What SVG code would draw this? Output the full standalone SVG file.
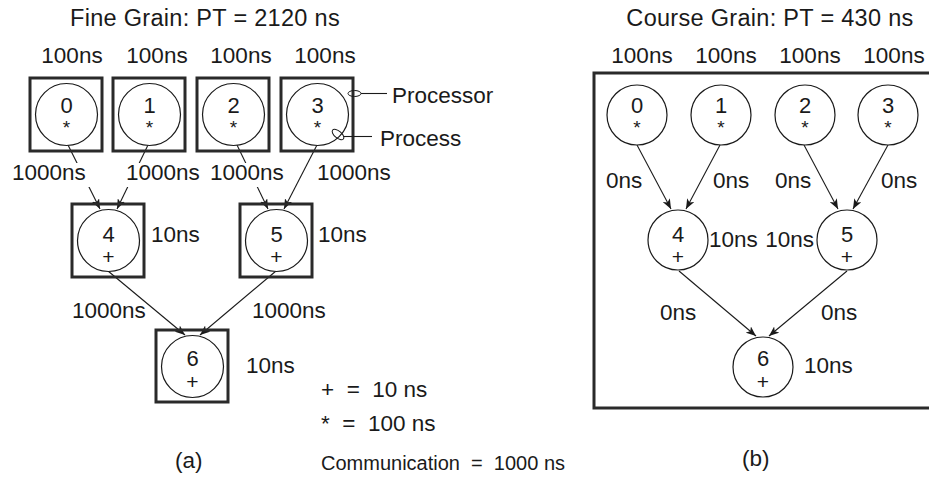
<svg xmlns="http://www.w3.org/2000/svg" width="929" height="477" viewBox="0 0 929 477">
<style>
text{font-family:"Liberation Sans",Arial,sans-serif;fill:#1a1a1a}
.lbl{font-size:22.5px}
.ttl{font-size:23.5px;letter-spacing:0.3px;text-anchor:middle}
.dig{font-size:22px;text-anchor:middle}
.sym{font-size:21px;text-anchor:middle}
.ast{font-size:19px;text-anchor:middle}
.box{fill:none;stroke:#2a2a2a;stroke-width:3}
.cir{fill:#fff;stroke:#1a1a1a;stroke-width:1.2}
.edge{fill:none;stroke:#1a1a1a;stroke-width:1.1;marker-end:url(#ah)}
.thin{fill:none;stroke:#1a1a1a;stroke-width:1.1}
.bg{fill:#fff}
</style>
<defs>
<marker id="ah" markerWidth="11" markerHeight="8" refX="10" refY="4" orient="auto" markerUnits="userSpaceOnUse">
<path d="M0,0 L10,4 L0,8 L2.5,4 z" fill="#1a1a1a"/>
</marker>
</defs>
<rect width="929" height="477" fill="#fff"/>

<!-- titles -->
<text class="ttl" x="205" y="26">Fine Grain: PT = 2120 ns</text>
<text class="ttl" x="770" y="26">Course Grain: PT = 430 ns</text>

<!-- top time labels -->
<g id="top-labels">
<text class="lbl" x="72" y="63" text-anchor="middle">100ns</text>
<text class="lbl" x="157" y="63" text-anchor="middle">100ns</text>
<text class="lbl" x="241" y="63" text-anchor="middle">100ns</text>
<text class="lbl" x="325" y="63" text-anchor="middle">100ns</text>
<text class="lbl" x="642" y="63" text-anchor="middle">100ns</text>
<text class="lbl" x="726" y="63" text-anchor="middle">100ns</text>
<text class="lbl" x="810" y="63" text-anchor="middle">100ns</text>
<text class="lbl" x="894" y="63" text-anchor="middle">100ns</text>
</g>

<!-- right big processor box -->
<rect class="box" x="594" y="73" width="345" height="335"/>

<!-- connectors -->
<g id="connectors">
<line class="edge" x1="68" y1="145" x2="100" y2="209"/>
<line class="edge" x1="148" y1="145" x2="117" y2="209"/>
<line class="edge" x1="237" y1="145" x2="268" y2="209"/>
<line class="edge" x1="317" y1="145" x2="284" y2="209"/>
<line class="edge" x1="108" y1="271" x2="185" y2="335"/>
<line class="edge" x1="276" y1="271" x2="200" y2="335"/>
<line class="edge" x1="637" y1="145" x2="671" y2="209"/>
<line class="edge" x1="720" y1="145" x2="686" y2="209"/>
<line class="edge" x1="804" y1="145" x2="838" y2="209"/>
<line class="edge" x1="888" y1="145" x2="853" y2="209"/>
<line class="edge" x1="679" y1="271" x2="756" y2="336"/>
<line class="edge" x1="847" y1="271" x2="769" y2="336"/>
</g>

<!-- edge labels -->
<g id="edge-labels">
<rect class="bg" x="10" y="163" width="80" height="24"/>
<rect class="bg" x="124" y="163" width="80" height="24"/>
<rect class="bg" x="208" y="163" width="80" height="24"/>
<text class="lbl" x="12" y="180">1000ns</text>
<text class="lbl" x="126" y="180">1000ns</text>
<text class="lbl" x="210" y="180">1000ns</text>
<text class="lbl" x="317" y="180">1000ns</text>
<text class="lbl" x="72" y="318">1000ns</text>
<text class="lbl" x="252" y="318">1000ns</text>
<text class="lbl" x="606" y="188">0ns</text>
<text class="lbl" x="713" y="188">0ns</text>
<text class="lbl" x="775" y="188">0ns</text>
<text class="lbl" x="881" y="188">0ns</text>
<text class="lbl" x="660" y="320">0ns</text>
<text class="lbl" x="821" y="320">0ns</text>
</g>

<!-- fine grain nodes -->
<g id="fg0"><rect class="box" x="30" y="78" width="72" height="73"/><circle class="cir" cx="66.5" cy="114.5" r="31"/><text class="dig" x="66.5" y="113">0</text><text class="ast" x="66.5" y="134">*</text></g>
<g id="fg1"><rect class="box" x="113" y="78" width="72" height="73"/><circle class="cir" cx="149.5" cy="114.5" r="31"/><text class="dig" x="149.5" y="113">1</text><text class="ast" x="149.5" y="134">*</text></g>
<g id="fg2"><rect class="box" x="197" y="78" width="72" height="73"/><circle class="cir" cx="233.5" cy="114.5" r="31"/><text class="dig" x="233.5" y="113">2</text><text class="ast" x="233.5" y="134">*</text></g>
<g id="fg3"><rect class="box" x="281" y="78" width="72" height="73"/><circle class="cir" cx="317.5" cy="114.5" r="31"/><text class="dig" x="317.5" y="113">3</text><text class="ast" x="317.5" y="134">*</text></g>
<g id="fg4"><rect class="box" x="72" y="204" width="72" height="73"/><circle class="cir" cx="108.5" cy="240.5" r="31"/><text class="dig" x="108.5" y="242">4</text><text class="sym" x="108.5" y="264">+</text><text class="lbl" x="151" y="242">10ns</text></g>
<g id="fg5"><rect class="box" x="240" y="204" width="72" height="73"/><circle class="cir" cx="276.5" cy="240.5" r="31"/><text class="dig" x="276.5" y="242">5</text><text class="sym" x="276.5" y="264">+</text><text class="lbl" x="318" y="242">10ns</text></g>
<g id="fg6"><rect class="box" x="156" y="330" width="72" height="72"/><circle class="cir" cx="192.5" cy="366.5" r="31"/><text class="dig" x="192.5" y="366">6</text><text class="sym" x="192.5" y="389">+</text><text class="lbl" x="246" y="373">10ns</text></g>

<!-- annotations -->
<g id="processor-note">
<ellipse cx="354.5" cy="93.5" rx="6.5" ry="3" fill="none" stroke="#1a1a1a" stroke-width="1"/>
<line class="thin" x1="361" y1="93.5" x2="387" y2="93.5"/>
<text class="lbl" x="392" y="103">Processor</text>
</g>
<g id="process-note">
<ellipse cx="338" cy="134.5" rx="7" ry="3.5" transform="rotate(40 338 134.5)" fill="none" stroke="#1a1a1a" stroke-width="1"/>
<line class="thin" x1="344" y1="136.5" x2="372" y2="136.5"/>
<text class="lbl" x="380" y="146">Process</text>
</g>

<!-- coarse grain nodes -->
<g id="cg0"><circle class="cir" cx="637" cy="115" r="30"/><text class="dig" x="637" y="113">0</text><text class="ast" x="637" y="134">*</text></g>
<g id="cg1"><circle class="cir" cx="721" cy="115" r="30"/><text class="dig" x="721" y="113">1</text><text class="ast" x="721" y="134">*</text></g>
<g id="cg2"><circle class="cir" cx="805" cy="115" r="30"/><text class="dig" x="805" y="113">2</text><text class="ast" x="805" y="134">*</text></g>
<g id="cg3"><circle class="cir" cx="888" cy="115" r="30"/><text class="dig" x="888" y="113">3</text><text class="ast" x="888" y="134">*</text></g>
<g id="cg4"><circle class="cir" cx="678" cy="240" r="30"/><text class="dig" x="678" y="242">4</text><text class="sym" x="678" y="264">+</text><text class="lbl" x="709" y="247">10ns</text></g>
<g id="cg5"><circle class="cir" cx="847" cy="240" r="30"/><text class="dig" x="847" y="242">5</text><text class="sym" x="847" y="264">+</text><text class="lbl" x="814" y="247" text-anchor="end">10ns</text></g>
<g id="cg6"><circle class="cir" cx="763" cy="367" r="30"/><text class="dig" x="763" y="366">6</text><text class="sym" x="763" y="389">+</text><text class="lbl" x="804" y="373">10ns</text></g>

<!-- legend and captions -->
<g id="legend">
<text class="lbl" x="321" y="397" xml:space="preserve">+  =  10 ns</text>
<text class="lbl" x="321" y="431" xml:space="preserve">*  =  100 ns</text>
<text class="lbl" x="321" y="470" xml:space="preserve" style="font-size:20px">Communication  =  1000 ns</text>
<text class="lbl" x="175" y="468">(a)</text>
<text class="lbl" x="742" y="466">(b)</text>
</g>
</svg>
